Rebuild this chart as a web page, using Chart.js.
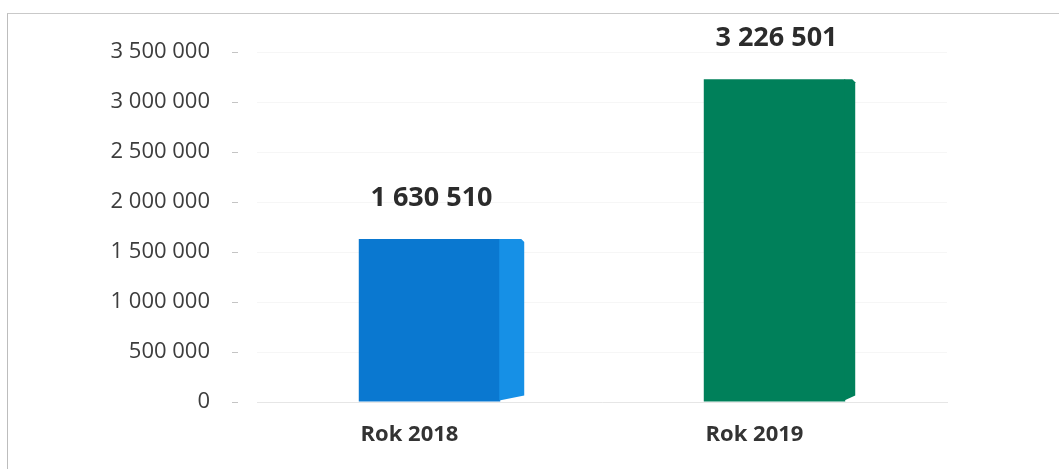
<!DOCTYPE html>
<html>
<head>
<meta charset="utf-8">
<script src="https://cdn.jsdelivr.net/npm/chart.js@4/dist/chart.umd.min.js"></script>
<style>
  html, body { margin: 0; padding: 0; background: #fff; overflow: hidden; }
  #frame { position: absolute; left: 7px; top: 13px; width: 1100px; height: 500px;
           border-left: 1px solid #bdbdbd; border-top: 1px solid #c9c9c9; }
  #wrap { position: absolute; left: 0; top: 0; width: 1059px; height: 469px; }
</style>
</head>
<body>
<div id="frame"></div>
<div id="wrap"><canvas id="barChart"></canvas></div>
<script>
// data
var years = ['Rok 2018', 'Rok 2019'];
var amounts = [1630510, 3226501];
var frontColors = ['#0a78d0', '#00805a'];
var sideColors = ['#1690e6', '#00805a'];
var depths = [24, 10];
var yTicks = [0, 500000, 1000000, 1500000, 2000000, 2500000, 3000000, 3500000];

var fmt = v => String(v).replace(/\B(?=(\d{3})+(?!\d))/g, ' ');

// side face of the bars + value labels on top
var barDecor = {
    id: 'barDecor',
    afterDatasetsDraw(chart) {
        var ctx = chart.ctx;
        var meta = chart.getDatasetMeta(0);
        meta.data.forEach((bar, i) => {
            var right = bar.x + bar.width / 2;
            var d = depths[i];
            ctx.save();
            ctx.fillStyle = sideColors[i];
            ctx.beginPath();
            ctx.moveTo(right - 1, bar.y);
            ctx.lineTo(right + d - 3, bar.y);
            ctx.lineTo(right + d, bar.y + 3);
            ctx.lineTo(right + d, bar.base - 6);
            ctx.lineTo(right - 1, bar.base - 1);
            ctx.closePath();
            ctx.fill();

            ctx.fillStyle = '#2b2b2b';
            ctx.font = 'bold 27px "Open Sans"';
            ctx.textAlign = 'center';
            ctx.textBaseline = 'middle';
            ctx.fillText(fmt(amounts[i]), bar.x + 2, bar.y - 41);
            ctx.restore();
        });
    }
};

new Chart('barChart', {
    type: 'bar',
    data: {
        labels: years,
        datasets: [{
            data: amounts,
            backgroundColor: frontColors,
            borderWidth: 0,
            barPercentage: 1,
            categoryPercentage: 0.41
        }]
    },
    options: {
        responsive: true,
        maintainAspectRatio: false,
        animation: false,
        layout: { padding: { left: 107, right: 112, top: 52, bottom: 0 } },
        plugins: { legend: { display: false }, tooltip: { enabled: false } },
        scales: {
            x: {
                grid: { display: false, drawTicks: false },
                border: { display: true, color: '#e6e6e6' },
                ticks: {
                    padding: 20,
                    labelOffset: -20,
                    color: '#333',
                    font: { family: 'Open Sans', size: 22, weight: 'bold' }
                },
                afterFit(scale) { scale.height = 67; }
            },
            y: {
                min: 0,
                max: 3500000,
                afterBuildTicks(scale) { scale.ticks = yTicks.map(v => ({ value: v })); },
                grid: {
                    color: '#f6f6f6',
                    tickLength: 25,
                    tickColor: '#c4c4c4',
                    tickBorderDash: [6, 100]
                },
                border: { display: false },
                ticks: {
                    padding: 22,
                    color: '#3d3d3d',
                    font: { family: 'Open Sans', size: 22 },
                    callback: v => fmt(v)
                },
                afterFit(scale) { scale.width = 150; }
            }
        }
    },
    plugins: [barDecor]
});
</script>
</body>
</html>
